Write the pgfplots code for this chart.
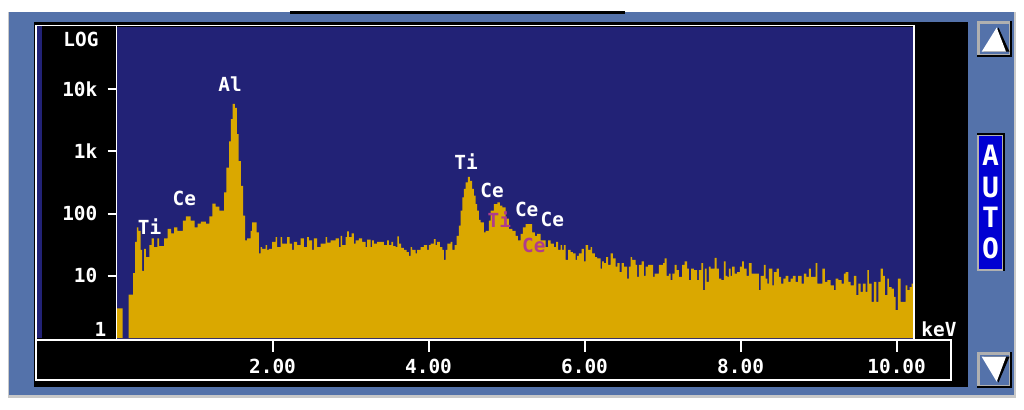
\documentclass[border=0pt]{standalone}
\usepackage{fontspec}
\usepackage{pgfplots}
\usepackage{pgfplotstable}
\pgfplotsset{compat=1.18}
\newfontfamily\pixfont{DejaVu Sans Mono}
\definecolor{frameblue}{RGB}{84,114,170}
\definecolor{navy}{RGB}{34,34,118}
\definecolor{gold}{RGB}{218,168,0}
\definecolor{mag}{RGB}{176,60,140}
\definecolor{autoblue}{RGB}{0,0,210}
\definecolor{btngray}{RGB}{176,176,176}

\pgfplotstableread{
x y
0.000 1
0.000 3
0.077 1
0.154 5
0.214 11
0.239 35
0.260 60
0.280 53
0.310 26
0.330 12
0.355 27
0.376 20
0.420 31
0.450 40
0.480 29
0.525 40
0.547 30
0.610 40
0.655 57
0.700 48
0.740 60
0.780 53
0.850 77
0.890 90
0.950 77
1.000 60
1.040 69
1.080 74
1.145 69
1.190 90
1.230 145
1.270 130
1.320 112
1.380 220
1.410 550
1.445 1450
1.466 3300
1.487 5800
1.517 5000
1.543 1900
1.564 700
1.594 280
1.624 93
1.650 37
1.675 40
1.718 53
1.739 72
1.795 50
1.825 23
1.846 29
1.868 27
1.910 31
1.932 26
1.953 27
1.996 35
2.039 42
2.060 29
2.103 42
2.124 33
2.188 42
2.218 33
2.252 26
2.274 35
2.316 31
2.359 40
2.402 29
2.445 42
2.466 37
2.509 26
2.530 40
2.573 29
2.616 33
2.680 42
2.701 34
2.744 37
2.808 40
2.851 29
2.872 44
2.893 31
2.936 42
2.957 52
2.979 42
3.013 48
3.043 33
3.064 37
3.107 40
3.150 35
3.192 29
3.214 38
3.257 29
3.278 37
3.299 33
3.342 35
3.385 35
3.428 31
3.470 37
3.492 31
3.522 35
3.547 30
3.577 29
3.599 43
3.620 33
3.650 28
3.684 26
3.718 24
3.748 21
3.770 29
3.791 26
3.834 23
3.855 26
3.898 29
3.941 31
3.983 26
4.005 31
4.026 33
4.069 39
4.090 31
4.111 35
4.146 29
4.176 26
4.197 18
4.218 26
4.240 33
4.282 35
4.304 26
4.334 31
4.359 44
4.389 64
4.411 112
4.432 183
4.453 250
4.475 318
4.505 390
4.530 337
4.560 250
4.582 195
4.603 142
4.624 112
4.646 79
4.667 72
4.710 50
4.731 53
4.774 77
4.795 112
4.838 142
4.881 152
4.915 134
4.945 126
4.988 83
5.030 57
5.073 53
5.116 44
5.146 37
5.179 47
5.209 60
5.243 68
5.329 50
5.363 44
5.393 47
5.436 37
5.500 29
5.534 37
5.564 33
5.606 29
5.636 35
5.662 26
5.692 31
5.713 26
5.735 31
5.756 18
5.790 26
5.820 24
5.850 23
5.884 18
5.906 21
5.927 23
5.961 27
5.991 17
6.012 31
6.047 26
6.077 29
6.098 23
6.132 20
6.162 19
6.205 13
6.226 17
6.248 16
6.277 20
6.303 15
6.333 23
6.363 19
6.397 14
6.419 16
6.448 11.5
6.474 16
6.504 14
6.547 9
6.568 14
6.589 20
6.611 18
6.654 15
6.675 9.6
6.696 15
6.730 17
6.760 10
6.782 14
6.816 15
6.846 15
6.880 9.6
6.897 10.8
6.953 15
7.008 16
7.026 19
7.051 10
7.081 10.8
7.102 8.5
7.124 10.8
7.154 15
7.179 12.3
7.209 9.6
7.252 15
7.282 17
7.316 13
7.337 8.5
7.367 13
7.402 12.3
7.444 8.5
7.466 12.3
7.496 16
7.521 5.9
7.543 13
7.564 8
7.594 14
7.615 13
7.667 19.5
7.692 13
7.722 9
7.752 8.5
7.786 17
7.808 10
7.829 9.6
7.850 13
7.872 10
7.893 14
7.923 10.8
7.957 11.5
7.991 14
8.021 17
8.043 13
8.077 10
8.107 16
8.141 10.8
8.235 5.9
8.256 10
8.299 15
8.320 9
8.342 7.5
8.363 13
8.406 7
8.427 11.5
8.462 13
8.491 9.6
8.521 7.5
8.547 9
8.577 10
8.611 8
8.641 9
8.671 10
8.705 8
8.739 10
8.782 7.5
8.812 10.8
8.842 9.6
8.876 13
8.902 9.6
8.962 16
8.983 7.5
9.047 13
9.081 8
9.111 8.5
9.154 7
9.197 5.9
9.218 9
9.252 8.5
9.295 7.5
9.325 10.8
9.346 11.5
9.380 8
9.410 7
9.453 10
9.483 4.9
9.509 7.5
9.539 5.5
9.568 7.5
9.603 5.5
9.624 12.3
9.645 7.5
9.680 3.8
9.709 8
9.739 3.8
9.765 8
9.795 13
9.825 10
9.850 4.9
9.880 9
9.902 6.6
9.936 6.2
9.966 4.6
9.987 2.8
10.017 9
10.051 3.8
10.115 7
10.137 5.9
10.167 6.6
10.192 7.5
10.250 7.5
10.250 1
}\spec

\begin{document}
\begin{tikzpicture}
\begin{scope}[x=0.5pt,y=0.5pt]
% page and window frame
\fill[white] (0,0) rectangle (1024,409);
\fill[btngray!70] (8,11) rectangle (1016,397);
\fill[frameblue] (9,14) rectangle (1014,397);
\fill[black] (290,395) rectangle (625,398);
\fill[black] (34,22) rectangle (968,387);
\fill[navy] (37,71) rectangle (42,383);
\fill[navy] (116.5,69.5) rectangle (913,72);
\end{scope}
% spectrum axis
\begin{axis}[
  at={(58.25pt,35.5pt)}, anchor=south west,
  scale only axis, width=398.25pt, height=155.5pt,
  xmin=0, xmax=10.21, ymode=log, ymin=1, ymax=100000,
  axis background/.style={fill=navy},
  axis line style={draw=none},
  xtick pos=left, ytick pos=left,
  tick align=outside,
  major tick length=4.5pt,
  xtick={2,4,6,8,10},
  xticklabels={2.00,4.00,6.00,8.00,10.00},
  ytick={10,100,1000,10000},
  yticklabels={10,100,1k,10k},
  minor tick num=0,
  yminorticks=false,
  extra y ticks={1},
  extra y tick labels={1},
  extra y tick style={major tick length=0pt, yticklabel style={yshift=4.5pt}},
  xtick style={draw=white, line width=1pt, yshift=-1.8pt},
  ytick style={draw=white, line width=1pt},
  ticklabel style={font=\pixfont\bfseries\fontsize{9.7pt}{10pt}\selectfont, text=white, inner sep=0pt},
  yticklabel style={anchor=east, xshift=-4.9pt},
  xticklabel style={anchor=north, yshift=-6pt},
]
\addplot[const plot, fill=gold, draw=none] table[x=x, y=y] {\spec};
\end{axis}
\begin{scope}[x=0.5pt,y=0.5pt]
% white frame lines
\draw[white, line width=0.8pt] (36,383.5) -- (914,383.5) -- (914,69) -- (951,69) -- (951,29) -- (36,29) -- cycle;
\draw[white, line width=0.8pt] (36,69) -- (914,69);
\draw[white, line width=0.8pt] (116.5,383.5) -- (116.5,69);
% scale marks of the strip below the plot
\draw[white, line width=1pt] (272.5,69) -- (272.5,57);
\draw[white, line width=1pt] (428.5,69) -- (428.5,57);
\draw[white, line width=1pt] (584.5,69) -- (584.5,57);
\draw[white, line width=1pt] (740.5,69) -- (740.5,57);
\draw[white, line width=1pt] (896.5,69) -- (896.5,57);
% texts
\tikzset{lab/.style={font=\pixfont\bfseries\fontsize{9.7pt}{10pt}\selectfont, inner sep=0pt}}
\node[lab, white] at (81,369.5) {LOG};
\node[lab, white] at (939,80) {keV};
\node[lab, white] at (149.5,182) {Ti};
\node[lab, white] at (184.3,211) {Ce};
\node[lab, white] at (230,324.5) {Al};
\node[lab, white] at (466,247) {Ti};
\node[lab, white] at (492,219) {Ce};
\node[lab, white] at (526.7,200) {Ce};
\node[lab, white] at (552.3,190) {Ce};
\node[lab, mag] at (499.3,189.5) {Ti};
\node[lab, mag] at (533.8,164) {Ce};
% up button
\fill[black] (976.7,352.3) rectangle (1012,388);
\fill[btngray] (976.7,354.3) rectangle (1010,388);
\fill[frameblue] (979.7,355.3) rectangle (1009,385);
\fill[black] (983.5,357.3) -- (1009.5,357.3) -- (998.5,381.5) -- cycle;
\fill[white] (981.7,357.3) -- (1006,357.3) -- (996.7,381.5) -- cycle;
% down button
\fill[black] (976.7,21) rectangle (1012,57);
\fill[btngray] (976.7,23) rectangle (1010,57);
\fill[frameblue] (979.7,24) rectangle (1009,54);
\fill[black] (983.5,52.3) -- (1009.5,52.3) -- (998.5,26.5) -- cycle;
\fill[white] (981.7,52.3) -- (1006,52.3) -- (996.7,27.3) -- cycle;
% AUTO button
\fill[black] (976.7,138.3) rectangle (1005,276.5);
\fill[btngray] (976.7,138.3) rectangle (1003,274.5);
\fill[autoblue] (979,140.5) rectangle (1002,273.5);
\tikzset{auto/.style={font=\pixfont\bfseries\fontsize{14pt}{14pt}\selectfont, white, inner sep=0pt}}
\node[auto] at (990.5,254) {A};
\node[auto] at (990.5,222) {U};
\node[auto] at (990.5,192) {T};
\node[auto] at (990.5,161) {O};
\end{scope}
\end{tikzpicture}
\end{document}
